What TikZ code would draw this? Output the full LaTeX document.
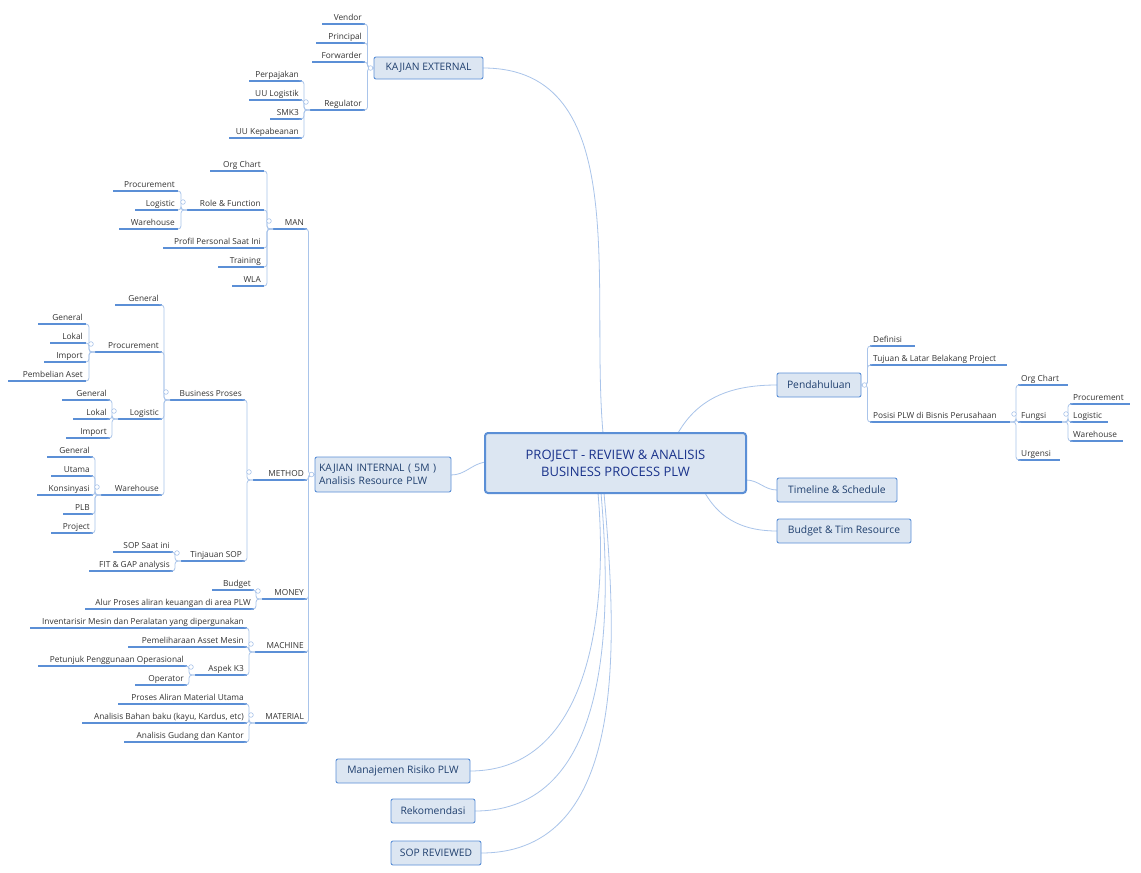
\documentclass[tikz,border=0pt]{standalone}
\usepackage{fontspec}
\setmainfont{Open Sans}
\usetikzlibrary{calc}
\definecolor{brc}{HTML}{A9C4EA}
\definecolor{ulc}{HTML}{5B8FD6}
\definecolor{boxf}{HTML}{DCE6F2}
\definecolor{boxd}{HTML}{5B8FD6}
\definecolor{txt}{HTML}{333333}
\definecolor{btxt}{HTML}{1F3F6E}
\tikzset{
 lt/.style={inner sep=0pt,font=\fontsize{8.3}{10}\selectfont,text=txt},
 ul/.style={draw=ulc,line width=1.2pt},
 br/.style={draw=brc,line width=0.8pt},
 cir/.style={draw=brc,line width=0.6pt,fill=white},
 topic/.style={draw=boxd,fill=boxf,line width=0.9pt,rounded corners=2pt,font=\fontsize{10.3}{12.5}\selectfont,text=btxt,inner sep=0pt,align=left},
 central/.style={draw=boxd,fill=boxf,line width=2pt,rounded corners=3pt,font=\fontsize{13}{17}\selectfont,text=btxt!80!blue,inner sep=0pt,align=center}
}
\newcommand\lf[5]{\node[lt,anchor=base east] (#1) at (#3-3,-#4+4) {#5};
 \draw[ul] (#2,-#4)--(#3,-#4);
 \coordinate (#1L) at (#2,-#4); \coordinate (#1R) at (#3,-#4);}
\newcommand\rf[5]{\node[lt,anchor=base west] (#1) at (#2+3,-#4+4) {#5};
 \draw[ul] (#2,-#4)--(#3,-#4);
 \coordinate (#1L) at (#2,-#4); \coordinate (#1R) at (#3,-#4);}
\newcommand\cn[2]{\draw[br,rounded corners=3pt] (#1) -- ++(-6,0) |- (#2);}
\newcommand\cnr[2]{\draw[br,rounded corners=3pt] (#1) -- ++(6,0) |- (#2);}
\newcommand\ci[1]{\draw[cir] ($(#1)+(-4,8)$) circle (2.3pt);}
\newcommand\cir[1]{\draw[cir] ($(#1)+(4,8)$) circle (2.3pt);}
\begin{document}
\begin{tikzpicture}[x=1pt,y=1pt]
\useasboundingbox[fill=white] (0,0) rectangle (1141,-873);
% main curves (drawn first)
\draw[br] (603,-433) to[out=95,in=0] (483,-68);
\draw[br] (485,-462) to[out=190,in=0] (451,-475);
\draw[br] (678,-433) to[out=60,in=180] (777,-385);
\draw[br] (746,-480) to[out=0,in=180] (777,-490);
\draw[br] (705,-493) to[out=-60,in=180] (777,-531);
\draw[br] (598,-493) to[out=-85,in=0] (470,-771);
\draw[br] (601,-493) to[out=-85,in=0] (475,-811);
\draw[br] (604,-493) to[out=-85,in=0] (481,-853);
% central & topics
\node[central,minimum width=261pt,minimum height=60pt] (c) at (615.5,-463) {PROJECT - REVIEW \& ANALISIS\\BUSINESS PROCESS PLW};
\node[topic,minimum width=109pt,minimum height=22pt,align=center] (ext) at (428.5,-68) {KAJIAN EXTERNAL};
\node[topic,minimum width=136pt,minimum height=35pt,text width=128pt] (int) at (383,-474.5) {KAJIAN INTERNAL ( 5M )\\Analisis Resource PLW};
\node[topic,minimum width=84pt,minimum height=24pt,align=center] (pend) at (819,-385) {Pendahuluan};
\node[topic,minimum width=120pt,minimum height=24pt,align=center] (time) at (837,-490) {Timeline \& Schedule};
\node[topic,minimum width=134pt,minimum height=24pt,align=center] (bud) at (844,-531) {Budget \& Tim Resource};
\node[topic,minimum width=134pt,minimum height=24pt,align=center] (risk) at (403,-771) {Manajemen Risiko PLW};
\node[topic,minimum width=84pt,minimum height=24pt,align=center] (rek) at (433,-811) {Rekomendasi};
\node[topic,minimum width=90pt,minimum height=24pt,align=center] (sop) at (436,-853) {SOP REVIEWED};
% external
\lf{ven}{322}{365}{24}{Vendor}
\lf{pri}{316}{365}{43}{Principal}
\lf{fwd}{312}{365}{62}{Forwarder}
\lf{reg}{310}{365}{110}{Regulator}
\foreach \n in {ven,pri,fwd,reg} {\cn{ext.west}{\n R}}
\draw[cir] ($(ext.west)+(-3,0)$) circle (2.3pt);
\lf{paj}{249}{302}{81}{Perpajakan}
\lf{uul}{249}{302}{100}{UU Logistik}
\lf{smk}{270}{302}{119}{SMK3}
\lf{uuk}{229}{302}{138}{UU Kepabeanan}
\foreach \n in {paj,uul,smk,uuk} {\cn{regL}{\n R}}
\ci{regL}
% internal
\lf{man}{273}{307}{229}{MAN}
\lf{met}{253}{307}{480}{METHOD}
\lf{mon}{262}{307}{599}{MONEY}
\lf{mac}{255}{307}{652}{MACHINE}
\lf{mat}{255}{307}{723}{MATERIAL}
\foreach \n in {man,met,mon,mac,mat} {\cn{int.west}{\n R}}
\draw[cir] ($(int.west)+(-3,0)$) circle (2.3pt);
% MAN
\lf{org}{210}{264}{171}{Org Chart}
\lf{rol}{187}{264}{210}{Role \& Function}
\lf{pro}{163}{264}{248}{Profil Personal Saat Ini}
\lf{tra}{218}{264}{267}{Training}
\lf{wla}{232}{264}{286}{WLA}
\foreach \n in {org,rol,pro,tra,wla} {\cn{manL}{\n R}}
\ci{manL}
\lf{rpr}{113}{178}{191}{Procurement}
\lf{rlo}{135}{178}{210}{Logistic}
\lf{rwa}{119}{178}{229}{Warehouse}
\foreach \n in {rpr,rlo,rwa} {\cn{rolL}{\n R}}
\ci{rolL}
% METHOD
\lf{bus}{170}{245}{400}{Business Proses}
\lf{tin}{181}{245}{561}{Tinjauan SOP}
\foreach \n in {bus,tin} {\cn{metL}{\n R}}
\ci{metL}
\lf{bge}{115}{162}{305}{General}
\lf{bpr}{95}{162}{352}{Procurement}
\lf{blo}{118}{162}{419}{Logistic}
\lf{bwa}{101}{162}{495}{Warehouse}
\foreach \n in {bge,bpr,blo,bwa} {\cn{busL}{\n R}}
\ci{busL}
\lf{pge}{38}{86}{324}{General}
\lf{plo}{50}{86}{343}{Lokal}
\lf{pim}{44}{86}{362}{Import}
\lf{ppa}{8}{86}{381}{Pembelian Aset}
\foreach \n in {pge,plo,pim,ppa} {\cn{bprL}{\n R}}
\ci{bprL}
\lf{lge}{62}{110}{400}{General}
\lf{llo}{73}{110}{419}{Lokal}
\lf{lim}{66}{110}{438}{Import}
\foreach \n in {lge,llo,lim} {\cn{bloL}{\n R}}
\ci{bloL}
\lf{wge}{47}{93}{457}{General}
\lf{wut}{51}{93}{476}{Utama}
\lf{wko}{37}{93}{495}{Konsinyasi}
\lf{wpl}{63}{93}{514}{PLB}
\lf{wpr}{51}{93}{533}{Project}
\foreach \n in {wge,wut,wko,wpl,wpr} {\cn{bwaL}{\n R}}
\ci{bwaL}
\lf{tso}{113}{173}{552}{SOP Saat ini}
\lf{tfi}{89}{173}{571}{FIT \& GAP analysis}
\foreach \n in {tso,tfi} {\cn{tinL}{\n R}}
\ci{tinL}
% MONEY
\lf{mbu}{212}{254}{590}{Budget}
\lf{mal}{85}{254}{609}{Alur Proses aliran keuangan di area PLW}
\foreach \n in {mbu,mal} {\cn{monL}{\n R}}
\ci{monL}
% MACHINE
\lf{min}{30}{247}{628}{Inventarisir Mesin dan Peralatan yang dipergunakan}
\lf{mpe}{128}{247}{647}{Pemeliharaan Asset Mesin}
\lf{mk3}{195}{247}{675}{Aspek K3}
\foreach \n in {min,mpe,mk3} {\cn{macL}{\n R}}
\ci{macL}
\lf{kpe}{38}{187}{666}{Petunjuk Penggunaan Operasional}
\lf{kop}{135}{187}{685}{Operator}
\foreach \n in {kpe,kop} {\cn{mk3L}{\n R}}
\ci{mk3L}
% MATERIAL
\lf{tpa}{118}{247}{704}{Proses Aliran Material Utama}
\lf{tab}{82}{247}{723}{Analisis Bahan baku (kayu, Kardus, etc)}
\lf{tag}{124}{247}{742}{Analisis Gudang dan Kantor}
\foreach \n in {tpa,tab,tag} {\cn{matL}{\n R}}
\ci{matL}
% Pendahuluan
\rf{def}{870}{915}{346}{Definisi}
\rf{tuj}{870}{1007}{365}{Tujuan \& Latar Belakang Project}
\rf{pos}{870}{1010}{422}{Posisi PLW di Bisnis Perusahaan}
\foreach \n in {def,tuj,pos} {\cnr{pend.east}{\n L}}
\draw[cir] ($(pend.east)+(3,0)$) circle (2.3pt);
\rf{por}{1018}{1068}{385}{Org Chart}
\rf{pfu}{1018}{1062}{422}{Fungsi}
\rf{pur}{1018}{1060}{460}{Urgensi}
\foreach \n in {por,pfu,pur} {\cnr{posR}{\n L}}
\cir{posR}
\rf{fpr}{1070}{1130}{404}{Procurement}
\rf{flo}{1070}{1108}{422}{Logistic}
\rf{fwa}{1070}{1123}{441}{Warehouse}
\foreach \n in {fpr,flo,fwa} {\cnr{pfuR}{\n L}}
\cir{pfuR}
\end{tikzpicture}
\end{document}
